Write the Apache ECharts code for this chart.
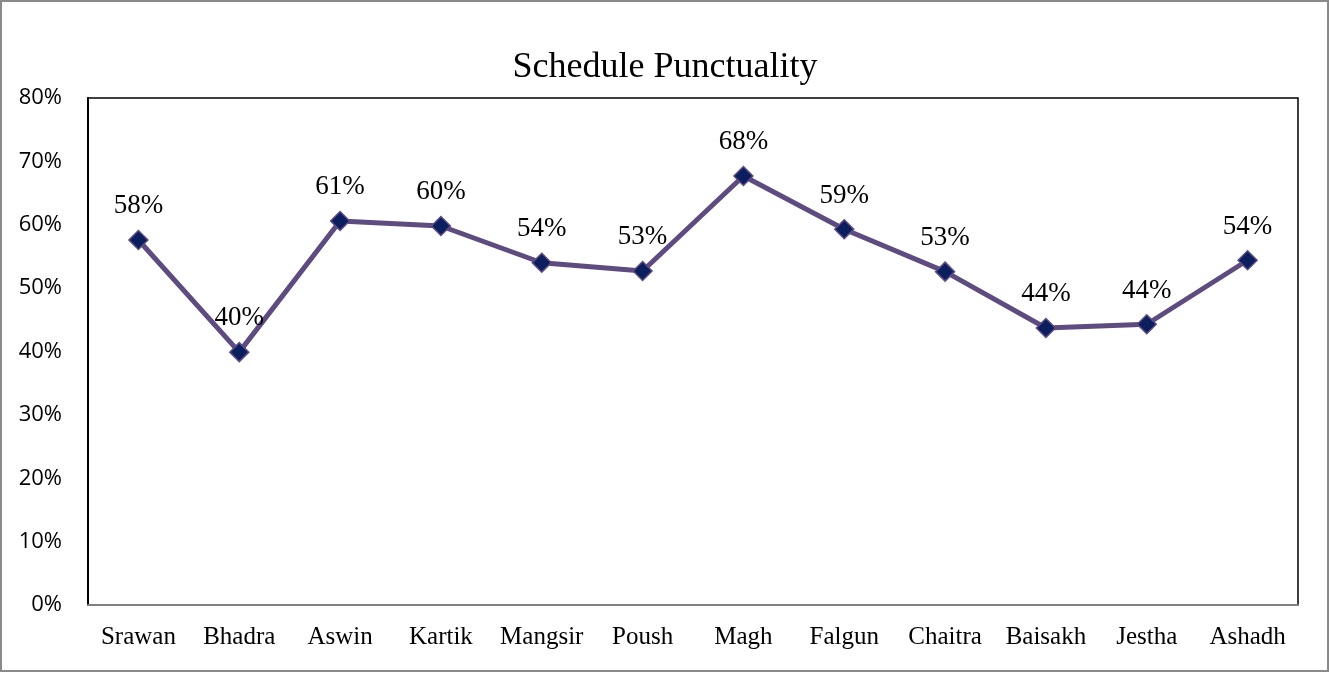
<!DOCTYPE html>
<html><head><meta charset="utf-8">
<script src="https://cdn.jsdelivr.net/npm/echarts@6/dist/echarts.min.js"></script>
<style>html,body{margin:0;padding:0;background:#fff}#c{width:1330px;height:674px}</style>
</head><body><div id="c"></div>
<script>
const categories = ['Srawan','Bhadra','Aswin','Kartik','Mangsir','Poush','Magh','Falgun','Chaitra','Baisakh','Jestha','Ashadh'];
const punctuality = [57.6, 39.9, 60.6, 59.8, 54.0, 52.7, 67.7, 59.3, 52.6, 43.7, 44.3, 54.4];
const yTicks = {min: 0, max: 80, interval: 10};

const chart = echarts.init(document.getElementById('c'));
chart.setOption({
  animation: false,
  backgroundColor: '#fff',
  title: {
    text: 'Schedule Punctuality', left: 'center', top: 45,
    textStyle: {fontFamily: 'Liberation Serif', fontSize: 36, fontWeight: 'normal', color: '#000'}
  },
  graphic: [{type: 'rect', shape: {x: 1, y: 1, width: 1327, height: 670}, style: {fill: 'none', stroke: '#8a8a8a', lineWidth: 2}, silent: true}],
  grid: {left: 88, top: 98, right: 32, bottom: 69, show: true, borderColor: '#000', borderWidth: 1.5},
  xAxis: {
    type: 'category', data: categories, boundaryGap: true,
    axisLine: {lineStyle: {color: '#808080', width: 2}},
    axisTick: {show: false},
    axisLabel: {interval: 0, hideOverlap: false, fontFamily: 'Liberation Serif', fontSize: 25, color: '#000', margin: 20}
  },
  yAxis: {
    type: 'value', min: yTicks.min, max: yTicks.max, interval: yTicks.interval,
    axisLine: {show: true, lineStyle: {color: '#000', width: 2}},
    axisTick: {show: false},
    splitLine: {show: false},
    axisLabel: {formatter: '{value}%', fontFamily: 'Open Sans', fontSize: 22, color: '#000', margin: 26, padding: [6, 0, 0, 0]}
  },
  series: [{
    type: 'line', data: punctuality,
    symbol: 'diamond', symbolSize: 19,
    lineStyle: {color: '#5e4b80', width: 5},
    itemStyle: {color: '#0b1f5e', borderColor: '#5e4b80', borderWidth: 1.5},
    label: {
      show: true, position: 'top', distance: 10,
      formatter: p => Math.round(p.value) + '%',
      fontFamily: 'Liberation Serif', fontSize: 27, color: '#000'
    }
  }]
});
</script></body></html>
